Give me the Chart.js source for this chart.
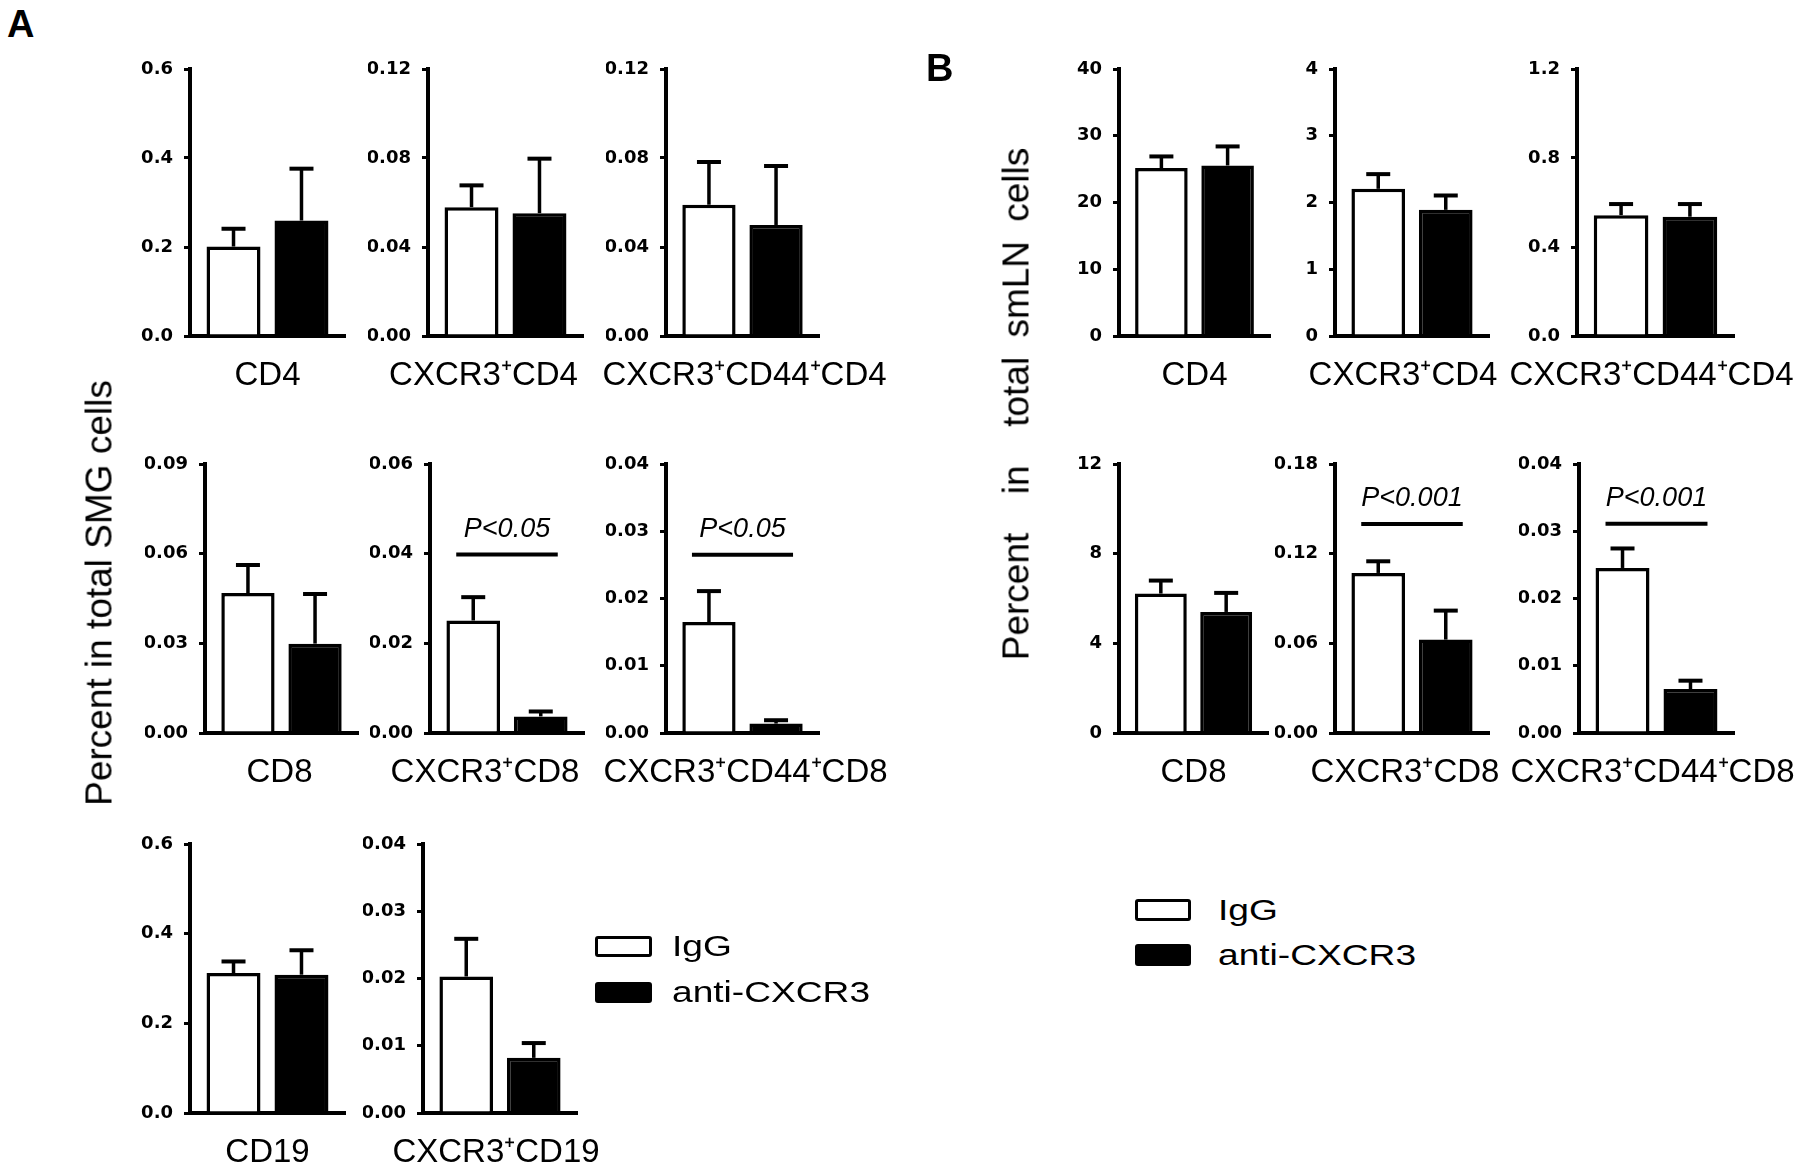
<!DOCTYPE html>
<html>
<head>
<meta charset="utf-8">
<script src="https://cdn.jsdelivr.net/npm/chart.js@4.4.1/dist/chart.umd.min.js"></script>
<style>
html,body{margin:0;padding:0;background:#fff;overflow:hidden;width:1800px;height:1169px;}
#stage{position:relative;width:1800px;height:1169px;background:#fff;}
canvas{position:absolute;}
.txt{position:absolute;white-space:pre;line-height:1;color:#000;font-family:"Liberation Sans",Arial,sans-serif;}
.box{position:absolute;box-sizing:border-box;border:3.5px solid #000;border-radius:3px;}
</style>
</head>
<body>
<div id="stage"></div>
<script>
// ---------------- DATA ----------------
const seriesNames = ['IgG', 'anti-CXCR3'];

const panelACategories = ['CD4', 'CXCR3⁺CD4', 'CXCR3⁺CD44⁺CD4', 'CD8', 'CXCR3⁺CD8', 'CXCR3⁺CD44⁺CD8', 'CD19', 'CXCR3⁺CD19'];
const panelAIgG     = [0.201, 0.0579, 0.0590, 0.0468, 0.0251, 0.0165, 0.312, 0.0203];
const panelAIgGSem  = [0.040, 0.0098, 0.0192, 0.0094, 0.0052, 0.0046, 0.026, 0.0056];
const panelAAnti    = [0.2595, 0.0552, 0.0499, 0.0299, 0.0037, 0.0014, 0.3085, 0.0082];
const panelAAntiSem = [0.1165, 0.0245, 0.0265, 0.0166, 0.0011, 0.0005, 0.0545, 0.0022];
const panelATicks = [
  ['0.0', '0.2', '0.4', '0.6'],
  ['0.00', '0.04', '0.08', '0.12'],
  ['0.00', '0.04', '0.08', '0.12'],
  ['0.00', '0.03', '0.06', '0.09'],
  ['0.00', '0.02', '0.04', '0.06'],
  ['0.00', '0.01', '0.02', '0.03', '0.04'],
  ['0.0', '0.2', '0.4', '0.6'],
  ['0.00', '0.01', '0.02', '0.03', '0.04']
];
const panelAPText  = [null, null, null, null, 'P<0.05', 'P<0.05', null, null];
const panelAPLevel = [null, null, null, null, 0.0398, 0.0265, null, null];

const panelBCategories = ['CD4', 'CXCR3⁺CD4', 'CXCR3⁺CD44⁺CD4', 'CD8', 'CXCR3⁺CD8', 'CXCR3⁺CD44⁺CD8'];
const panelBIgG     = [25.15, 2.205, 0.543, 6.22, 0.1071, 0.02454];
const panelBIgGSem  = [1.75, 0.22, 0.050, 0.58, 0.0078, 0.0029];
const panelBAnti    = [25.55, 1.89, 0.536, 5.40, 0.0625, 0.00654];
const panelBAntiSem = [2.85, 0.215, 0.057, 0.85, 0.0194, 0.00124];
const panelBTicks = [
  ['0', '10', '20', '30', '40'],
  ['0', '1', '2', '3', '4'],
  ['0.0', '0.4', '0.8', '1.2'],
  ['0', '4', '8', '12'],
  ['0.00', '0.06', '0.12', '0.18'],
  ['0.00', '0.01', '0.02', '0.03', '0.04']
];
const panelBPText  = [null, null, null, null, 'P<0.001', 'P<0.001'];
const panelBPLevel = [null, null, null, null, 0.1399, 0.0311];

const panelATitle = 'Percent in total SMG cells';
const panelBTitle = 'Percent  in  total smLN cells';

// ---------------- LAYOUT (pixel boxes of each mini plot) ----------------
// ax: y-axis x, ty: top tick y, zy: zero y, rx: right end of x-axis, ls: label shift
const layoutA = [
  {ax:190, ty:69,  zy:336,  rx:345, ls:0},
  {ax:428, ty:69,  zy:336,  rx:583, ls:-22},
  {ax:666, ty:69,  zy:336,  rx:819, ls:2},
  {ax:205, ty:464, zy:733,  rx:358, ls:-2},
  {ax:430, ty:464, zy:733,  rx:584, ls:-22},
  {ax:666, ty:464, zy:733,  rx:819, ls:3},
  {ax:190, ty:844, zy:1113, rx:345, ls:0},
  {ax:423, ty:844, zy:1113, rx:577, ls:-4}
];
const layoutB = [
  {ax:1119, ty:69,  zy:336, rx:1270, ls:0},
  {ax:1335, ty:69,  zy:336, rx:1489, ls:-9},
  {ax:1577, ty:69,  zy:336, rx:1734, ls:-4},
  {ax:1119, ty:464, zy:733, rx:1268, ls:0},
  {ax:1335, ty:464, zy:733, rx:1489, ls:-7},
  {ax:1579, ty:464, zy:733, rx:1734, ls:-4}
];

const stage = document.getElementById('stage');
const SANS = '"Liberation Sans", Arial, sans-serif';

const errPlugin = {
  id: 'errbars',
  afterDatasetsDraw(chart) {
    const ctx = chart.ctx, y = chart.scales.y;
    chart.data.datasets.forEach((ds, i) => {
      chart.getDatasetMeta(i).data.forEach((bar, j) => {
        const top = y.getPixelForValue(ds.data[j] + ds.sem[j]);
        ctx.save();
        ctx.strokeStyle = '#000';
        ctx.lineWidth = 3.5;
        ctx.beginPath(); ctx.moveTo(bar.x, bar.y); ctx.lineTo(bar.x, top); ctx.stroke();
        ctx.lineWidth = 4;
        ctx.beginPath(); ctx.moveTo(bar.x - 12, top); ctx.lineTo(bar.x + 12, top); ctx.stroke();
        ctx.restore();
      });
    });
  }
};

const pPlugin = {
  id: 'pval',
  afterDatasetsDraw(chart, args, opts) {
    if (!opts || !opts.text) return;
    const ctx = chart.ctx;
    const b0 = chart.getDatasetMeta(0).data[0], b1 = chart.getDatasetMeta(1).data[0];
    const yy = chart.scales.y.getPixelForValue(opts.level);
    const x0 = b0.x - 17, x1 = b1.x + 17;
    ctx.save();
    ctx.strokeStyle = '#000'; ctx.lineWidth = 4;
    ctx.beginPath(); ctx.moveTo(x0, yy); ctx.lineTo(x1, yy); ctx.stroke();
    ctx.fillStyle = '#000';
    ctx.font = 'italic 27px ' + SANS;
    ctx.textAlign = 'center'; ctx.textBaseline = 'alphabetic';
    ctx.fillText(opts.text, (x0 + x1) / 2, yy - 18);
    ctx.restore();
  }
};

function makeChart(L, label, igg, iggSem, anti, antiSem, ticks, pText, pLevel) {
  const PL = 40, YW = 60, PR = 120, PT = 20, XH = 70;
  const cw = L.rx - L.ax, ch = L.zy - L.ty;
  const W = PL + YW + cw + PR, H = PT + ch + XH;
  const c = document.createElement('canvas');
  c.width = W; c.height = H;
  c.style.left = (L.ax - PL - YW) + 'px';
  c.style.top = (L.ty - PT) + 'px';
  c.style.width = W + 'px'; c.style.height = H + 'px';
  stage.appendChild(c);
  const tickVals = ticks.map(parseFloat);
  new Chart(c, {
    type: 'bar',
    data: {
      labels: [label],
      datasets: [
        {label: seriesNames[0], data: [igg], sem: [iggSem], backgroundColor: '#fff', borderColor: '#000', borderWidth: 3.5},
        {label: seriesNames[1], data: [anti], sem: [antiSem], backgroundColor: '#000', borderColor: '#000', borderWidth: 3.5}
      ]
    },
    options: {
      responsive: false, animation: false, devicePixelRatio: 1,
      layout: {padding: {left: PL, right: PR, top: PT, bottom: 0}},
      datasets: {bar: {barPercentage: 0.794, categoryPercentage: 0.877}},
      plugins: {
        legend: {display: false}, tooltip: {enabled: false}, title: {display: false},
        pval: {text: pText, level: pLevel}
      },
      scales: {
        x: {
          grid: {display: false, drawTicks: false},
          border: {display: true, width: 4, color: '#000'},
          ticks: {color: '#000', font: {family: SANS, size: 33}, padding: 20, labelOffset: L.ls,
                  maxRotation: 0, minRotation: 0, autoSkip: false},
          afterFit: s => { s.height = XH; s.paddingLeft = 0; s.paddingRight = 0; }
        },
        y: {
          min: 0, max: tickVals[tickVals.length - 1],
          border: {display: true, width: 4, color: '#000'},
          grid: {drawOnChartArea: false, drawTicks: true, tickLength: 6, lineWidth: 3, color: '#000'},
          afterBuildTicks: s => { s.ticks = tickVals.map(v => ({value: v})); },
          ticks: {color: '#000', font: {family: '"DejaVu Sans", sans-serif', weight: 'bold', size: 18}, padding: 11,
                  callback: (v, i) => ticks[i]},
          afterFit: s => { s.width = YW; s.paddingTop = 0; s.paddingBottom = 0; }
        }
      }
    },
    plugins: [errPlugin, pPlugin]
  });
}

panelACategories.forEach((cat, i) => makeChart(layoutA[i], cat, panelAIgG[i], panelAIgGSem[i], panelAAnti[i], panelAAntiSem[i], panelATicks[i], panelAPText[i], panelAPLevel[i]));
panelBCategories.forEach((cat, i) => makeChart(layoutB[i], cat, panelBIgG[i], panelBIgGSem[i], panelBAnti[i], panelBAntiSem[i], panelBTicks[i], panelBPText[i], panelBPLevel[i]));

// ---------------- HTML TEXT ----------------
function addText(txt, x, baseline, size, extra) {
  const d = document.createElement('div');
  d.className = 'txt';
  d.textContent = txt;
  d.style.fontSize = size + 'px';
  d.style.left = x + 'px';
  d.style.top = (baseline - 0.8465 * size) + 'px';
  if (extra) Object.assign(d.style, extra);
  stage.appendChild(d);
  return d;
}
function addVTitle(txt, cx, cy, size, extra) {
  const d = document.createElement('div');
  d.className = 'txt';
  d.textContent = txt;
  d.style.fontSize = size + 'px';
  d.style.left = cx + 'px';
  d.style.top = cy + 'px';
  d.style.transform = 'translate(-50%,-50%) rotate(-90deg)';
  if (extra) Object.assign(d.style, extra);
  stage.appendChild(d);
}
function addBox(x, y, w, h, filled) {
  const d = document.createElement('div');
  d.className = 'box';
  Object.assign(d.style, {left: x + 'px', top: y + 'px', width: w + 'px', height: h + 'px', background: filled ? '#000' : '#fff'});
  stage.appendChild(d);
}

// panel letters
addText('A', 7, 37, 38, {fontWeight: 'bold'});
addText('B', 926, 81, 38, {fontWeight: 'bold'});

// y titles
addVTitle(panelATitle, 98.5, 593, 37);
addVTitle(panelBTitle, 1015.5, 404, 37, {wordSpacing: '9px'});

// legends
const legStretch = {transform: 'scaleX(1.28)', transformOrigin: '0 0'};
addBox(595, 936, 57, 21, false);
addBox(595, 982, 57, 21, true);
addText(seriesNames[0], 672, 957, 29, legStretch);
addText(seriesNames[1], 672, 1003, 29, legStretch);

addBox(1135, 899, 56, 22, false);
addBox(1135, 944, 56, 22, true);
addText(seriesNames[0], 1218, 921, 29, legStretch);
addText(seriesNames[1], 1218, 966, 29, legStretch);
</script>
</body>
</html>
